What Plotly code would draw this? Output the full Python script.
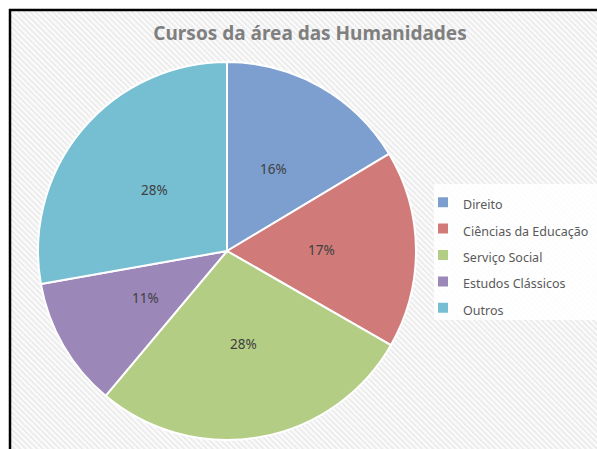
import base64
import math
import plotly.graph_objects as go

# Data
categories = ["Direito", "Ciências da Educação", "Serviço Social", "Estudos Clássicos", "Outros"]
values = [16.4, 16.9, 27.8, 11.1, 27.8]
colors = ["#7d9fd0", "#d07b79", "#b4cd85", "#9c87b9", "#76bfd3"]
title_text = "Cursos da área das Humanidades"

W, H = 597, 449
FONT = "Noto Sans"


def px(x):
    return x / W


def py(y):
    return 1 - y / H


# hatched background texture
bw, bh = W - 10, H - 10
svg = (
    f'<svg xmlns="http://www.w3.org/2000/svg" width="{bw}" height="{bh}" viewBox="0 0 {bw} {bh}" preserveAspectRatio="none">'
    '<defs><pattern id="p" width="4" height="4" patternUnits="userSpaceOnUse" patternTransform="rotate(-45)">'
    '<rect width="4" height="4" fill="#fbfbfb"/><rect width="1.6" height="4" fill="#e9e9e9"/></pattern></defs>'
    f'<rect width="{bw}" height="{bh}" fill="url(#p)"/></svg>'
)
bg_src = "data:image/svg+xml;base64," + base64.b64encode(svg.encode()).decode()

cx, cy, r = 227, 251, 189

fig = go.Figure(
    go.Pie(
        labels=[f'<span style="font-size:12.5px">{c}</span>' for c in categories],
        values=values,
        sort=False,
        direction="clockwise",
        rotation=0,
        marker=dict(colors=colors, line=dict(color="white", width=2)),
        textinfo="none",
        hoverinfo="label+percent",
        domain=dict(x=[px(cx - r), px(cx + r)], y=[py(cy + r), py(cy - r)]),
    )
)

# percentage labels placed at half radius on each slice's mid angle (Excel style)
total = sum(values)
annotations = []
cum = 0.0
for v in values:
    mid = (cum + v / 2) / total * 2 * math.pi
    cum += v
    lx = cx + 0.5 * r * math.sin(mid)
    ly = cy - 0.5 * r * math.cos(mid)
    annotations.append(
        dict(
            x=px(lx), y=py(ly), xref="paper", yref="paper",
            text=f"{round(v / total * 100)}%", showarrow=False,
            font=dict(family=FONT, size=13.5, color="#404040"),
            xanchor="center", yanchor="middle",
        )
    )

fig.update_layout(
    width=W,
    height=H,
    margin=dict(l=0, r=0, t=0, b=0, autoexpand=False),
    paper_bgcolor="white",
    font=dict(family=FONT, color="#595959"),
    title=dict(
        text=f"<b>{title_text}</b>",
        x=px(310),
        xanchor="center",
        y=py(33),
        yanchor="middle",
        font=dict(family=FONT, size=19, color="#7f7f7f"),
    ),
    showlegend=True,
    legend=dict(
        x=px(423),
        xanchor="left",
        y=py(184),
        yanchor="top",
        bgcolor="rgba(0,0,0,0)",
        font=dict(family=FONT, size=18, color="#595959"),
        itemwidth=30,
    ),
    annotations=annotations,
    images=[
        dict(
            source=bg_src,
            xref="paper",
            yref="paper",
            x=px(10),
            y=py(10),
            sizex=bw / W,
            sizey=bh / H,
            xanchor="left",
            yanchor="top",
            sizing="stretch",
            layer="below",
        )
    ],
    shapes=[
        dict(type="rect", xref="paper", yref="paper", x0=px(434), x1=1.0, y0=py(320), y1=py(184),
             fillcolor="rgba(255,255,255,0.85)", line=dict(width=0), layer="above"),
        dict(type="line", xref="paper", yref="paper", x0=px(10), x1=px(10), y0=0, y1=py(9),
             line=dict(color="black", width=2.5)),
        dict(type="line", xref="paper", yref="paper", x0=px(9), x1=1.0, y0=py(10), y1=py(10),
             line=dict(color="black", width=2.5)),
    ],
)

fig.write_html(
    "out.html",
    config={"displayModeBar": False},
    post_script="document.body.style.margin='0';document.body.style.overflow='hidden';",
)
